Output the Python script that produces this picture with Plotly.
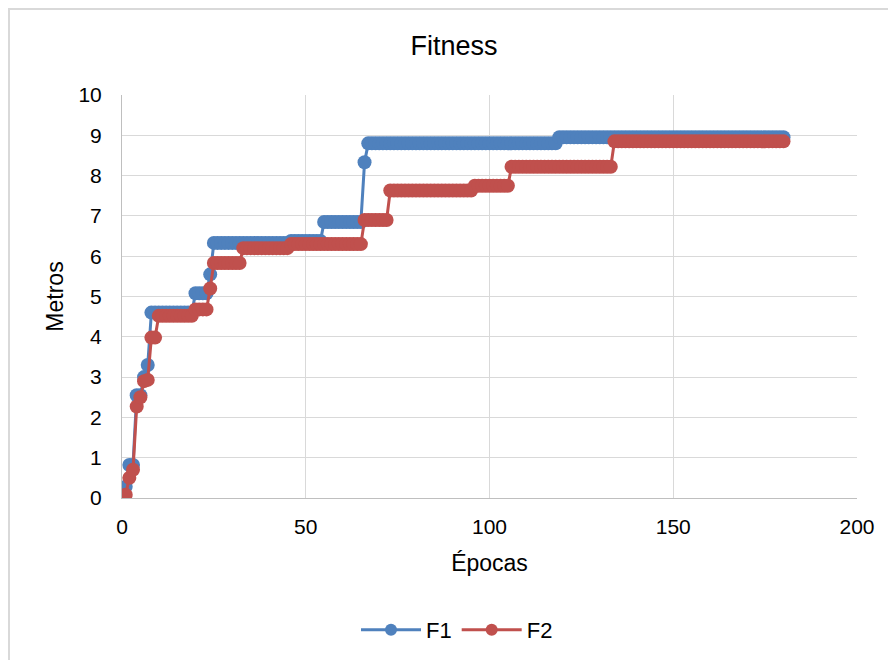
import plotly.graph_objects as go

epochs = list(range(1, 181))

f1 = [
    0.28, 0.82, 0.82, 2.55, 2.55, 3.00, 3.30, 4.60, 4.60, 4.60,
    4.60, 4.60, 4.60, 4.60, 4.60, 4.60, 4.60, 4.60, 4.60, 5.08,
    5.08, 5.08, 5.08, 5.55, 6.33, 6.33, 6.33, 6.33, 6.33, 6.33,
    6.33, 6.33, 6.33, 6.33, 6.33, 6.33, 6.33, 6.33, 6.33, 6.33,
    6.33, 6.33, 6.33, 6.33, 6.33, 6.38, 6.38, 6.38, 6.38, 6.38,
    6.38, 6.38, 6.38, 6.38, 6.85, 6.85, 6.85, 6.85, 6.85, 6.85,
    6.85, 6.85, 6.85, 6.85, 6.85, 8.33, 8.80, 8.80, 8.80, 8.80,
    8.80, 8.80, 8.80, 8.80, 8.80, 8.80, 8.80, 8.80, 8.80, 8.80,
    8.80, 8.80, 8.80, 8.80, 8.80, 8.80, 8.80, 8.80, 8.80, 8.80,
    8.80, 8.80, 8.80, 8.80, 8.80, 8.80, 8.80, 8.80, 8.80, 8.80,
    8.80, 8.80, 8.80, 8.80, 8.80, 8.80, 8.80, 8.80, 8.80, 8.80,
    8.80, 8.80, 8.80, 8.80, 8.80, 8.80, 8.80, 8.80, 8.95, 8.95,
    8.95, 8.95, 8.95, 8.95, 8.95, 8.95, 8.95, 8.95, 8.95, 8.95,
    8.95, 8.95, 8.95, 8.95, 8.95, 8.95, 8.95, 8.95, 8.95, 8.95,
    8.95, 8.95, 8.95, 8.95, 8.95, 8.95, 8.95, 8.95, 8.95, 8.95,
    8.95, 8.95, 8.95, 8.95, 8.95, 8.95, 8.95, 8.95, 8.95, 8.95,
    8.95, 8.95, 8.95, 8.95, 8.95, 8.95, 8.95, 8.95, 8.95, 8.95,
    8.95, 8.95, 8.95, 8.95, 8.95, 8.95, 8.95, 8.95, 8.95, 8.95,
]

f2 = [
    0.08, 0.50, 0.70, 2.27, 2.50, 2.90, 2.93, 3.98, 3.98, 4.52,
    4.52, 4.52, 4.52, 4.52, 4.52, 4.52, 4.52, 4.52, 4.52, 4.68,
    4.68, 4.68, 4.68, 5.20, 5.83, 5.83, 5.83, 5.83, 5.83, 5.83,
    5.83, 5.83, 6.20, 6.20, 6.20, 6.20, 6.20, 6.20, 6.20, 6.20,
    6.20, 6.20, 6.20, 6.20, 6.20, 6.30, 6.30, 6.30, 6.30, 6.30,
    6.30, 6.30, 6.30, 6.30, 6.30, 6.30, 6.30, 6.30, 6.30, 6.30,
    6.30, 6.30, 6.30, 6.30, 6.30, 6.90, 6.90, 6.90, 6.90, 6.90,
    6.90, 6.90, 7.63, 7.63, 7.63, 7.63, 7.63, 7.63, 7.63, 7.63,
    7.63, 7.63, 7.63, 7.63, 7.63, 7.63, 7.63, 7.63, 7.63, 7.63,
    7.63, 7.63, 7.63, 7.63, 7.63, 7.75, 7.75, 7.75, 7.75, 7.75,
    7.75, 7.75, 7.75, 7.75, 7.75, 8.22, 8.22, 8.22, 8.22, 8.22,
    8.22, 8.22, 8.22, 8.22, 8.22, 8.22, 8.22, 8.22, 8.22, 8.22,
    8.22, 8.22, 8.22, 8.22, 8.22, 8.22, 8.22, 8.22, 8.22, 8.22,
    8.22, 8.22, 8.22, 8.85, 8.85, 8.85, 8.85, 8.85, 8.85, 8.85,
    8.85, 8.85, 8.85, 8.85, 8.85, 8.85, 8.85, 8.85, 8.85, 8.85,
    8.85, 8.85, 8.85, 8.85, 8.85, 8.85, 8.85, 8.85, 8.85, 8.85,
    8.85, 8.85, 8.85, 8.85, 8.85, 8.85, 8.85, 8.85, 8.85, 8.85,
    8.85, 8.85, 8.85, 8.85, 8.85, 8.85, 8.85, 8.85, 8.85, 8.85,
]

series_names = ["F1", "F2"]
colors = ["#4F81BD", "#C0504D"]
x_ticks = [0, 50, 100, 150, 200]
y_ticks = list(range(0, 11))

FONT = "Liberation Sans, Arial, sans-serif"

# page body has an 8px margin, so figure coordinates are offset by 8px
W, H = 888, 652
L, T = 114, 87
PW, PH = 735, 403

fig = go.Figure()
for name, ys, col in zip(series_names, [f1, f2], colors):
    fig.add_trace(go.Scatter(
        x=epochs, y=ys, mode="lines+markers", name=name,
        line=dict(color=col, width=3),
        marker=dict(color=col, size=14, line=dict(width=0)),
        showlegend=False, hoverinfo="x+y",
    ))
for name, col in zip(series_names, colors):
    fig.add_trace(go.Scatter(
        x=[None], y=[None], mode="lines+markers", name=name,
        line=dict(color=col, width=3),
        marker=dict(color=col, size=12),
        showlegend=True,
    ))

fig.update_layout(
    width=W, height=H,
    margin=dict(l=L, r=W - L - PW, t=T, b=H - T - PH, autoexpand=False),
    paper_bgcolor="white", plot_bgcolor="white",
    font=dict(family=FONT, size=21, color="#000000"),
    title=dict(text="Fitness", x=446 / W, xref="container", xanchor="center",
               y=1 - 38 / H, yref="container", yanchor="middle",
               font=dict(size=27, color="#000000")),
    showlegend=True,
    legend=dict(orientation="h", x=449 / W, xref="container", xanchor="center",
                y=1 - 622 / H, yref="container", yanchor="middle",
                font=dict(size=22), itemwidth=60, bgcolor="rgba(0,0,0,0)"),
    xaxis=dict(range=[0, 200], tickvals=x_ticks, ticktext=[str(v) for v in x_ticks],
               showgrid=True, gridcolor="#D9D9D9", gridwidth=1,
               showline=True, linecolor="#BFBFBF", linewidth=1, zeroline=False,
               ticks="", ticklabelstandoff=10, tickfont=dict(size=21),
               title=dict(text="Épocas", standoff=17, font=dict(size=23))),
    yaxis=dict(range=[0, 10], tickvals=y_ticks, ticktext=[str(v) for v in y_ticks],
               showgrid=True, gridcolor="#D9D9D9", gridwidth=1,
               showline=True, linecolor="#BFBFBF", linewidth=1, zeroline=False,
               ticks="", ticklabelstandoff=15, tickfont=dict(size=21),
               title=dict(text="Metros", standoff=8, font=dict(size=23))),
    shapes=[dict(type="rect", xref="paper", yref="paper",
                 x0=(1 - L) / PW, x1=(900 - L) / PW,
                 y0=(T + PH - 670) / PH, y1=(T + PH - 1) / PH,
                 line=dict(color="#D9D9D9", width=2), fillcolor="rgba(0,0,0,0)",
                 layer="below")],
)

fig.write_html("out.html")
